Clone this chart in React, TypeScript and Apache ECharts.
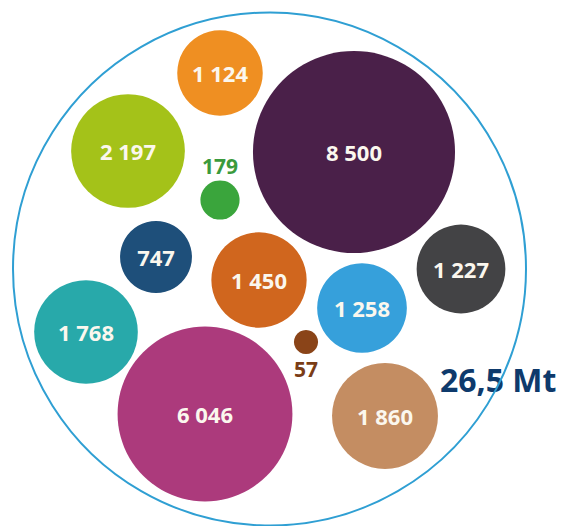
import React, { useEffect, useRef } from "react";
import * as echarts from "echarts";

// Values (kt) shown in each bubble
const values = [1124, 2197, 179, 8500, 747, 1450, 1227, 1258, 1768, 57, 6046, 1860];
// Layout of the packed bubbles (axis units)
const bubbleX = [220, 128, 220, 354, 156, 259, 461, 362, 86, 306, 205, 385];
const bubbleY = [73, 151, 200, 152, 257, 280, 269, 308, 332, 342, 414, 416];
const colors = [
  "#ef8f22", "#a4c219", "#3aa53c", "#4a2049", "#1e4f7a", "#d0661e",
  "#434345", "#36a0db", "#28a9aa", "#8a4418", "#ac3a7c", "#c48d62",
];
const outsideLabelColors: Record<number, string> = { 179: "#3b9a3c", 57: "#7a3d16" };
const totalLabel = "26,5 Mt";

const fmt = (v: number) => String(v).replace(/\B(?=(\d{3})+(?!\d))/g, " ");
const sizeOf = (v: number) => 4.32 * Math.pow(v, 0.425);

export default function App() {
  const ref = useRef<HTMLDivElement>(null);
  useEffect(() => {
    if (!ref.current) return;
    const chart = echarts.init(ref.current, undefined, { renderer: "svg" });
    const data = values.map((v, i) => {
      const small = v < 500;
      const above = v === 179;
      return {
        value: [bubbleX[i], bubbleY[i], v],
        itemStyle: { color: colors[i], opacity: 1 },
        label: small
          ? {
              position: above ? "top" : "bottom",
              distance: 4,
              color: outsideLabelColors[v],
              fontSize: 21,
              fontWeight: "bold",
            }
          : { position: "inside" },
      };
    });
    chart.setOption({
      animation: false,
      backgroundColor: "#ffffff",
      grid: { left: 0, right: 0, top: 0, bottom: 0 },
      xAxis: { type: "value", min: 0, max: 565, show: false },
      yAxis: { type: "value", min: 0, max: 526, inverse: true, show: false },
      graphic: [
        {
          type: "text",
          x: 440,
          y: 379,
          z: 5,
          style: {
            text: totalLabel,
            fontSize: 32,
            fontWeight: "bold",
            fontFamily: "Open Sans",
            fill: "#0e3a6c",
            verticalAlign: "middle",
            align: "left",
          },
        },
        {
          type: "circle",
          z: 10,
          shape: { cx: 269.5, cy: 269, r: 256.5 },
          style: { fill: "none", stroke: "#2f9fd3", lineWidth: 2 },
        },
      ],
      series: [
        {
          type: "scatter",
          z: 3,
          data,
          symbol: "circle",
          symbolSize: (val: number[]) => sizeOf(val[2]),
          itemStyle: { opacity: 1 },
          label: {
            show: true,
            formatter: (p: any) => fmt(p.value[2]),
            color: "#fbf7ee",
            fontSize: 22,
            fontWeight: "bold",
            fontFamily: "Open Sans",
          },
          emphasis: { disabled: true },
        },
      ],
    });
    return () => chart.dispose();
  }, []);
  return (
    <div
      ref={ref}
      style={{ position: "fixed", left: 0, top: 0, width: 565, height: 526 }}
    />
  );
}
